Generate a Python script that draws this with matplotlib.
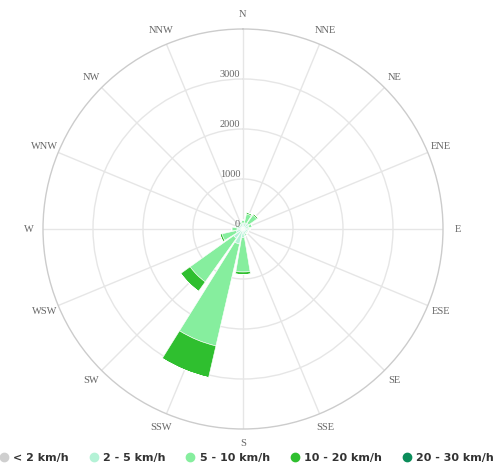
import numpy as np
import matplotlib
matplotlib.use("Agg")
import matplotlib.pyplot as plt
from matplotlib.lines import Line2D

directions = ["N", "NNE", "NE", "ENE", "E", "ESE", "SE", "SSE",
              "S", "SSW", "SW", "WSW", "W", "WNW", "NW", "NNW"]
series_names = ["< 2 km/h", "2 - 5 km/h", "5 - 10 km/h", "10 - 20 km/h", "20 - 30 km/h"]
series_colors = ["#cfcfcf", "#b4f2d6", "#86ee9e", "#2fbf2f", "#0b8c5a"]

lt2 = [10, 10, 10, 10, 10, 10, 10, 10, 10, 10, 10, 10, 10, 10, 10, 10]
s2_5 = [110, 120, 130, 110, 100, 90, 90, 100, 160, 300, 220, 130, 110, 100, 90, 100]
s5_10 = [60, 180, 200, 70, 30, 20, 20, 40, 690, 2090, 1070, 290, 100, 40, 20, 40]
s10_20 = [0, 30, 30, 0, 0, 0, 0, 0, 50, 650, 230, 40, 10, 0, 0, 0]
s20_30 = [0, 0, 0, 0, 0, 0, 0, 0, 0, 0, 0, 0, 0, 0, 0, 0]
series = [lt2, s2_5, s5_10, s10_20, s20_30]

radial_ticks = [0, 1000, 2000, 3000]
r_max = 4000

W, H, DPI = 496, 466, 100
fig = plt.figure(figsize=(W / DPI, H / DPI), dpi=DPI)
cx, cy, R = 243, 229, 200
ax = fig.add_axes([(cx - R) / W, (H - cy - R) / H, 2 * R / W, 2 * R / H], projection="polar")
ax.set_theta_zero_location("N")
ax.set_theta_direction(-1)

n = len(directions)
theta = np.arange(n) * 2 * np.pi / n
width = 2 * np.pi / n * 0.84

bottom = np.zeros(n)
for vals, col in zip(series, series_colors):
    v = np.array(vals, dtype=float)
    ax.bar(theta, v, width=width, bottom=bottom, color=col, edgecolor="white",
           linewidth=0.4, zorder=3)
    bottom += v

ax.set_ylim(0, r_max)
ax.set_rgrids([1000, 2000, 3000], labels=[])
ax.set_thetagrids(np.degrees(theta), labels=[])
ax.grid(True, color="#e6e6e6", linewidth=1.0)
ax.spines["polar"].set_color("#cccccc")
ax.spines["polar"].set_linewidth(1.0)
ax.tick_params(axis="both", length=0)
ax.set_axisbelow(True)

for t, d in zip(theta, directions):
    ax.text(t, 4290, d, ha="center", va="center", fontsize=7.5,
            family="Liberation Serif", color="#666666", clip_on=False)

for rt in radial_ticks:
    ax.annotate(str(rt), xy=(0, rt), xytext=(-2, 3), textcoords="offset points",
                ha="right", va="center", fontsize=7.5, family="Liberation Serif",
                color="#666666", zorder=5)

handles = [Line2D([0], [0], marker="o", linestyle="", markersize=6,
                  markerfacecolor=c, markeredgecolor=c) for c in series_colors]
leg = fig.legend(handles, series_names, ncol=5, loc="center",
                 bbox_to_anchor=(0.496, (H - 458) / H), frameon=False,
                 handlelength=1.0, handletextpad=0.35, columnspacing=1.73,
                 prop={"size": 8.0, "weight": "bold", "family": "DejaVu Sans"})
for txt in leg.get_texts():
    txt.set_color("#333333")

fig.savefig("out.png", dpi=DPI)
